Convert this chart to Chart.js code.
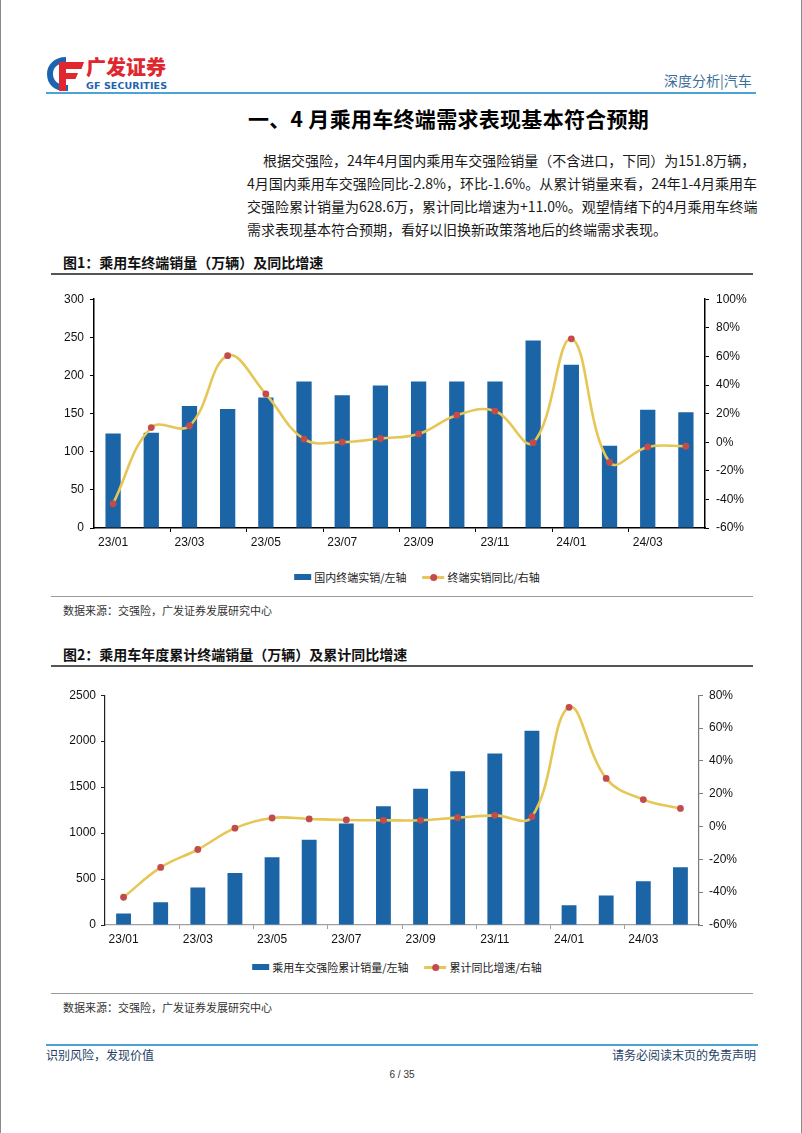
<!DOCTYPE html>
<html>
<head>
<meta charset="utf-8">
<script src="https://cdn.jsdelivr.net/npm/chart.js@4"></script>
<style>
  html, body { margin: 0; padding: 0; background: #fff; }
  #page { position: relative; width: 802px; height: 1133px; box-sizing: border-box;
          border-left: 1px solid #8a8a8a; border-right: 1px solid #8a8a8a; overflow: hidden;
          font-family: "Noto Sans CJK SC", "Noto Sans", sans-serif; color: #000; }
  .abs { position: absolute; white-space: nowrap; }
  .para { position: absolute; font-size: 14px; line-height: 20px; text-align: justify; text-align-last: justify; white-space: nowrap; color: #1a1a1a; }
  .figtitle { position: absolute; left: 62px; font-size: 14px; font-weight: 700; line-height: 20px; color: #111; }
  .rule { position: absolute; left: 50px; width: 702px; }
  .source { position: absolute; left: 62px; font-size: 11px; line-height: 16px; color: #333; }
  .legend { position: absolute; display: flex; align-items: center; font-size: 11px; line-height: 16px; color: #222; transform: translateX(-50%); }
  .legend .rect { width: 17px; height: 6px; background: #1b65a6; margin-right: 3px; }
  .legend .lmark { position: relative; width: 22px; height: 3px; background: #e6c654; margin-right: 3px; margin-left: 16px; }
  .legend .lmark::after { content: ""; position: absolute; left: 8px; top: -2px; width: 7px; height: 7px; border-radius: 50%; background: #c44b4b; }
  canvas { position: absolute; }
</style>
</head>
<body>
<div id="page">
  <!-- header -->
  <svg class="abs" style="left:44px;top:55px" width="40" height="38" viewBox="0 0 40 38">
    <path d="M21 2 C9 2 2 10 2 19 C2 29 9 36 20 36 L23 36 L23 30 L20 30 C12.5 30 8 25 8 19 C8 12 13 8 21 8 Z" fill="#1c64b0"/>
    <path d="M14 7 L39 7 L36.5 14 L21 14 L21 18 L33 18 L30.5 24 L21 24 L21 36 L14 36 Z" fill="#e0262e"/>
  </svg>
  <div class="abs" style="left:85px;top:55px;font-size:20px;font-weight:900;color:#e0262e;line-height:24px;">广发证券</div>
  <div class="abs" style="left:85px;top:80px;font-size:9.5px;font-weight:900;color:#1c64b0;line-height:12px;font-family:'DejaVu Sans','Noto Sans',sans-serif;letter-spacing:0.1px;">GF SECURITIES</div>
  <div class="abs" style="left:663px;top:71px;font-size:14px;line-height:18px;color:#3d6f9c;">深度分析|汽车</div>
  <div class="abs" style="left:45px;top:92px;width:710px;height:2px;background:#4ba3d6;"></div>

  <div class="abs" style="left:247px;top:105px;font-size:21px;font-weight:700;line-height:26px;letter-spacing:0.3px;">一、4 月乘用车终端需求表现基本符合预期</div>

  <div class="para" style="left:262px;width:490px;top:150px;">根据交强险，24年4月国内乘用车交强险销量（不含进口，下同）为151.8万辆，</div>
  <div class="para" style="left:246px;width:506px;top:173px;">4月国内乘用车交强险同比-2.8%，环比-1.6%。从累计销量来看，24年1-4月乘用车</div>
  <div class="para" style="left:246px;width:506px;top:196px;">交强险累计销量为628.6万，累计同比增速为+11.0%。观望情绪下的4月乘用车终端</div>
  <div class="para" style="left:246px;top:219px;text-align:left;text-align-last:left;">需求表现基本符合预期，看好以旧换新政策落地后的终端需求表现。</div>

  <!-- figure 1 -->
  <div class="figtitle" style="top:252px;">图1：乘用车终端销量（万辆）及同比增速</div>
  <div class="rule" style="top:273px;height:2px;background:#555;"></div>
  <canvas id="c1" width="730" height="270" style="left:40px;top:285px;"></canvas>
  <div class="legend" style="left:416px;top:569px;">
    <div class="rect"></div><span>国内终端实销/左轴</span>
    <div class="lmark"></div><span>终端实销同比/右轴</span>
  </div>
  <div class="rule" style="top:596px;height:1px;background:#9a9a9a;"></div>
  <div class="source" style="top:602px;">数据来源：交强险，广发证券发展研究中心</div>

  <!-- figure 2 -->
  <div class="figtitle" style="top:644px;">图2：乘用车年度累计终端销量（万辆）及累计同比增速</div>
  <div class="rule" style="top:665px;height:2px;background:#555;"></div>
  <canvas id="c2" width="730" height="270" style="left:40px;top:682px;"></canvas>
  <div class="legend" style="left:396px;top:959px;">
    <div class="rect"></div><span>乘用车交强险累计销量/左轴</span>
    <div class="lmark"></div><span>累计同比增速/右轴</span>
  </div>
  <div class="rule" style="top:993px;height:1px;background:#9a9a9a;"></div>
  <div class="source" style="top:999px;">数据来源：交强险，广发证券发展研究中心</div>

  <!-- footer -->
  <div class="abs" style="left:45px;top:1044px;width:712px;height:2px;background:#4ba3d6;"></div>
  <div class="abs" style="left:45px;top:1047px;font-size:12px;line-height:16px;color:#1e3f66;">识别风险，发现价值</div>
  <div class="abs" style="right:45px;top:1047px;font-size:12px;line-height:16px;color:#1e3f66;">请务必阅读末页的免责声明</div>
  <div class="abs" style="left:0;width:802px;top:1068px;text-align:center;font-size:10px;line-height:14px;color:#333;font-family:'Liberation Sans',Arial,sans-serif;">6 / 35</div>
</div>

<script>
// ---- data ----
const months = ['23/01','23/02','23/03','23/04','23/05','23/06','23/07','23/08','23/09','23/10','23/11','23/12','24/01','24/02','24/03','24/04'];
const monthlySales = [124, 125, 160, 156, 171, 192, 174, 187, 192, 192, 192, 246, 214, 108, 155, 151.8];
const monthlyYoY   = [-43.0, 10.2, 11.5, 60.5, 33.7, 2.2, 0.1, 2.6, 5.8, 18.9, 21.8, -0.3, 72.3, -14.1, -3.3, -2.8];
const cumSales     = [124, 247, 408, 566, 738, 928, 1103, 1293, 1483, 1673, 1866, 2113, 214, 322, 477, 628.6];
const cumYoY       = [-43.1, -24.9, -14.0, -1.0, 5.2, 4.6, 4.0, 3.8, 3.8, 5.4, 6.8, 6.0, 72.6, 29.3, 16.4, 11.0];
const leftTicks1  = {min: 0, max: 300, step: 50};
const rightTicks1 = {min: -60, max: 100, step: 20};
const leftTicks2  = {min: 0, max: 2500, step: 500};
const rightTicks2 = {min: -60, max: 80, step: 20};

const BAR = '#1b65a6', LINE = '#e6c654', DOT = '#c44b4b';
const tickFont = {family: "'Liberation Sans', Arial, sans-serif", size: 12};

function build(id, bars, line, lt, rt, g) {
  new Chart(document.getElementById(id), {
    data: {
      labels: months,
      datasets: [
        {type: 'line', data: line, yAxisID: 'y1', order: 0,
         borderColor: LINE, borderWidth: 2.6, tension: 0.4, cubicInterpolationMode: 'default',
         pointRadius: 3.4, pointBackgroundColor: DOT, pointBorderColor: DOT, pointBorderWidth: 0,
         clip: false},
        {type: 'bar', data: bars, yAxisID: 'y', order: 1,
         backgroundColor: BAR, barPercentage: 0.4, categoryPercentage: 1.0}
      ]
    },
    options: {
      responsive: false, animation: false, devicePixelRatio: 1,
      layout: {padding: {top: 10, bottom: 0, left: 0, right: 0}},
      plugins: {legend: {display: false}, tooltip: {enabled: false}},
      scales: {
        x: {
          offset: true,
          border: {display: true, color: g.xAxis, width: g.xw},
          grid: {display: true, offset: true, drawOnChartArea: false, drawTicks: true, tickLength: 4,
                 tickWidth: 1, tickColor: c => (c.index !== undefined && c.index % 2 === 0 && c.index > 0) ? g.xAxis : 'rgba(0,0,0,0)'},
          ticks: {autoSkip: false, maxRotation: 0, minRotation: 0, padding: 3, color: '#111', font: tickFont,
                  callback: (v, i) => i % 2 === 0 ? months[i] : ''},
          afterFit: s => { s.height = 27; }
        },
        y: {
          position: 'left', min: lt.min, max: lt.max,
          border: {display: true, color: g.yAxis, width: g.yw},
          grid: {display: true, drawOnChartArea: false, drawTicks: true, tickLength: 4, tickColor: g.yAxis},
          ticks: {stepSize: lt.step, padding: g.lpad, color: '#111', font: tickFont, callback: v => String(v)},
          afterFit: s => { s.width = g.lw; }
        },
        y1: {
          position: 'right', min: rt.min, max: rt.max,
          border: {display: true, color: g.rAxis, width: g.rw},
          grid: {display: true, drawOnChartArea: false, drawTicks: true, tickLength: 4, tickColor: g.rAxis},
          ticks: {stepSize: rt.step, padding: g.rpad, color: '#111', font: tickFont, callback: v => v + '%'},
          afterFit: s => { s.width = g.rwid; }
        }
      }
    }
  });
}

build('c1', monthlySales, monthlyYoY, leftTicks1, rightTicks1,
      {xAxis: '#000', xw: 1.5, yAxis: '#000', yw: 1.5, rAxis: '#000', rw: 1.5, lpad: 6, rpad: 7, lw: 53, rwid: 66});
build('c2', cumSales, cumYoY, leftTicks2, rightTicks2,
      {xAxis: '#a0a0a0', xw: 1.2, yAxis: '#222', yw: 1.2, rAxis: '#7a7a7a', rw: 1.2, lpad: 5, rpad: 6, lw: 64, rwid: 72});
</script>
</body>
</html>
